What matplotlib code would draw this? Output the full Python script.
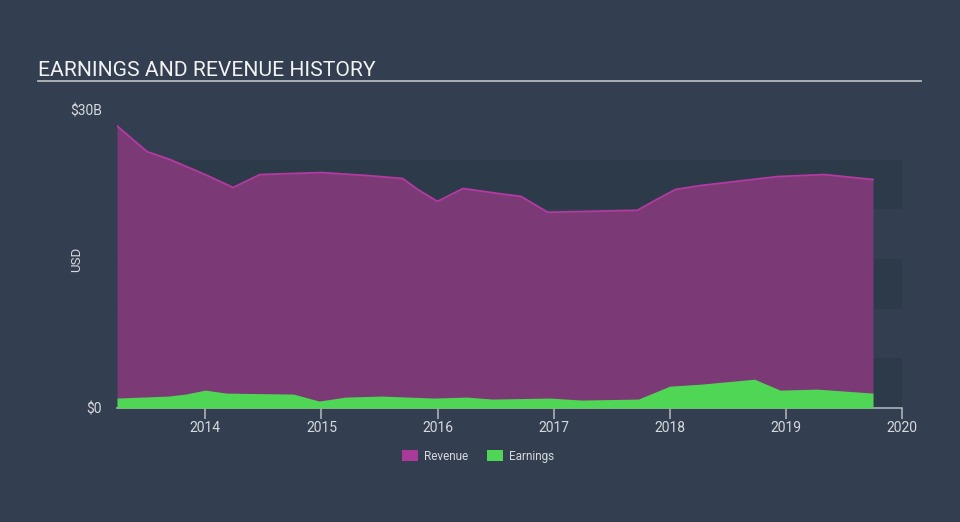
import matplotlib.pyplot as plt
from matplotlib.patches import Patch
from matplotlib.lines import Line2D

# Data (values in $B)

rev_years = [2013.24, 2013.50, 2013.70, 2014.00, 2014.24, 2014.47, 2015.00, 2015.40,
             2015.70, 2015.83, 2016.00, 2016.22, 2016.52, 2016.72, 2016.95, 2017.72,
             2017.92, 2018.05, 2018.27, 2018.93, 2019.33, 2019.75]
revenue = [28.4, 25.8, 25.0, 23.5, 22.2, 23.5, 23.7, 23.4,
           23.1, 22.0, 20.8, 22.1, 21.6, 21.3, 19.7, 19.9,
           21.2, 22.0, 22.4, 23.3, 23.5, 23.0]

earn_years = [2013.24, 2013.68, 2013.83, 2014.00, 2014.18, 2014.76, 2014.98, 2015.21,
              2015.52, 2015.97, 2016.25, 2016.47, 2016.97, 2017.24, 2017.73, 2018.00,
              2018.27, 2018.73, 2018.95, 2019.27, 2019.75]
earnings = [1.0, 1.2, 1.4, 1.8, 1.5, 1.4, 0.7, 1.1,
            1.2, 1.0, 1.1, 0.9, 1.0, 0.8, 0.9, 2.2,
            2.4, 2.9, 1.8, 1.9, 1.5]

year_ticks = [2014, 2015, 2016, 2017, 2018, 2019, 2020]

# Colors

BG = "#333f50"
BAND = "#2c3a4a"
REV_FILL = "#7b3a76"
REV_LINE = "#b43aa2"
EARN_FILL = "#4fd655"
TEXT = "#d6d9dd"

plt.rcParams['font.family'] = ['Roboto', 'DejaVu Sans']

fig = plt.figure(figsize=(9.6, 5.22), dpi=100, facecolor=BG)
ax = fig.add_axes([117 / 960, 1 - 408 / 522, 785 / 960, 298 / 522])
ax.set_facecolor(BG)

ax.set_xlim(2013.24, 2020)
ax.set_ylim(0, 30)

# darker bands
for lo in (0, 10, 20):
    ax.axhspan(lo, lo + 5, color=BAND, zorder=0, lw=0)

ax.fill_between(rev_years, revenue, color=REV_FILL, zorder=2, lw=0)
ax.plot(rev_years, revenue, color=REV_LINE, lw=1.3, zorder=3)
ax.fill_between(earn_years, earnings, color=EARN_FILL, zorder=4, lw=0)

for side in ("top", "right", "left"):
    ax.spines[side].set_visible(False)
ax.spines["bottom"].set_color("#aab0b8")
ax.spines["bottom"].set_linewidth(1.2)

ax.set_xticks(year_ticks)
ax.set_xticklabels([str(y) for y in year_ticks])
ax.tick_params(axis="x", colors="#aab0b8", length=8, width=1.2, labelcolor=TEXT,
               labelsize=10, pad=1)

ax.set_yticks([0, 30])
ax.set_yticklabels(["$0", "$30B"])
ax.tick_params(axis="y", length=0, labelcolor=TEXT, labelsize=10, pad=11)

ax.set_ylabel("USD", color=TEXT, fontsize=9.5)
ax.yaxis.set_label_coords(-34 / 785, 0.5)

# Title and underline
fig.text(38 / 960, 1 - 76 / 522, "EARNINGS AND REVENUE HISTORY", color="#f2f2f2",
         fontsize=15.2, ha="left", va="baseline")
fig.add_artist(Line2D([38 / 960, 921 / 960], [1 - 81 / 522, 1 - 81 / 522],
                      color="#b4b8bd", lw=1.3, transform=fig.transFigure))

handles = [Patch(facecolor="#a93a98", label="Revenue"),
           Patch(facecolor=EARN_FILL, label="Earnings")]
leg = fig.legend(handles=handles, loc="center", bbox_to_anchor=(478 / 960, 1 - 456 / 522),
                 ncol=2, frameon=False, fontsize=8.5, handlelength=1.4, handleheight=1.0,
                 columnspacing=1.6, handletextpad=0.5)
for t in leg.get_texts():
    t.set_color(TEXT)

fig.savefig("out.png", dpi=100, facecolor=BG)
